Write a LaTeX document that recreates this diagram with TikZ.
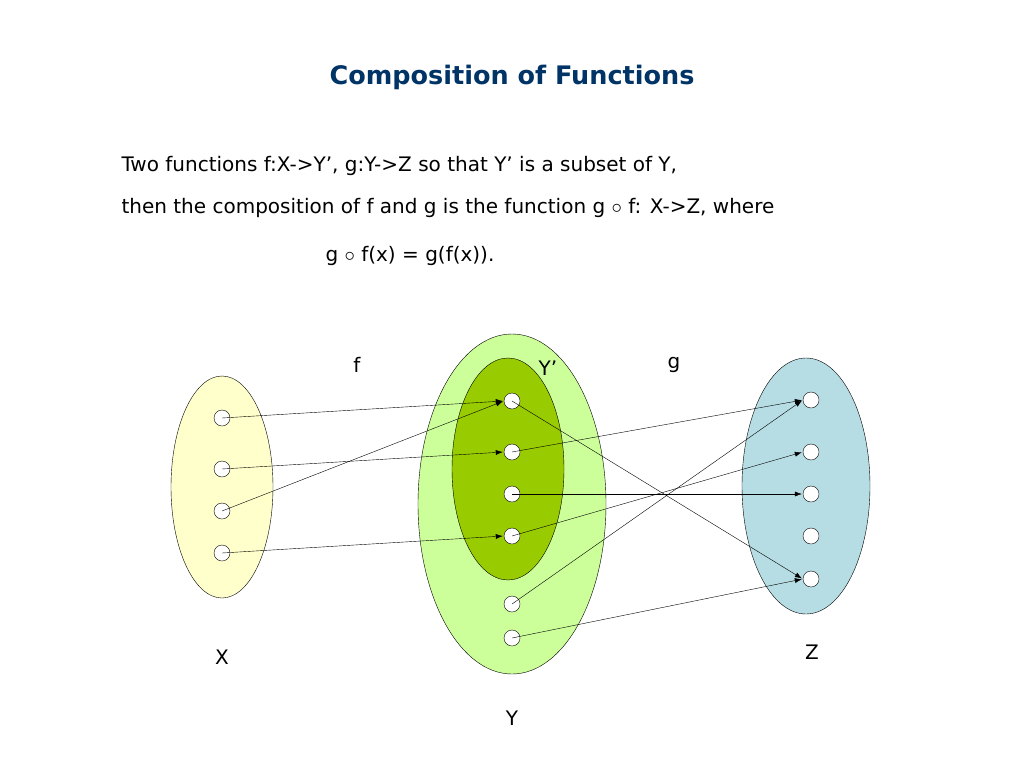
\documentclass[tikz,border=0pt]{standalone}
\usepackage{fontspec}
\setmainfont{DejaVu Sans}
\usepackage{tikz}
\usetikzlibrary{arrows.meta}
\tikzset{>={Latex[length=7pt,width=5pt]}}
\definecolor{titleblue}{RGB}{0,51,102}
\definecolor{xfill}{RGB}{255,255,204}
\definecolor{yfill}{RGB}{204,255,153}
\definecolor{ypfill}{RGB}{153,204,0}
\definecolor{zfill}{RGB}{183,221,228}
\tikzstyle{elt}=[draw,circle,fill=white,inner sep=0,minimum size=16]
\tikzstyle{map}=[->,thin,shorten >=1pt]
\begin{document}
\begin{tikzpicture}[x=1pt,y=-1pt,font=\fontsize{20}{24}\selectfont]
  \useasboundingbox (0,0) rectangle (1024,768);
  \node[titleblue,font=\fontsize{25.5}{30}\selectfont\bfseries] (title) at (512,77) {Composition of Functions};
  \node[anchor=west] (l1) at (118,166) {Two functions f:X->Y’, g:Y->Z so that Y’ is a subset of Y,};
  \node[anchor=west] (l2) at (118,208) {then the composition of f and g is the function g $\circ$ f: X->Z, where};
  \node[anchor=west] (l3) at (322,256) {g $\circ$ f(x) = g(f(x)).};
  % sets
  \draw[fill=xfill] (222,487) ellipse [x radius=51,y radius=111];
  \draw[fill=yfill] (512,504) ellipse [x radius=94,y radius=170];
  \draw[fill=ypfill] (508,469) ellipse [x radius=56,y radius=111];
  \draw[fill=zfill] (806,486) ellipse [x radius=64,y radius=128];
  % elements
  \foreach \i/\y in {1/418,2/469,3/511,4/553} \node[elt] (x\i) at (222,\y) {};
  \foreach \i/\y in {1/401,2/452,3/494,4/536,5/604,6/638} \node[elt] (y\i) at (512,\y) {};
  \foreach \i/\y in {1/400,2/452,3/494,4/536,5/579} \node[elt] (z\i) at (811,\y) {};
  % f
  \foreach \a/\b in {1/1,2/2,3/1,4/4} \draw[map] (x\a.center) -- (y\b.west);
  % g
  \foreach \a/\b in {1/5,2/1,3/3,4/2,5/1,6/5} \draw[map] (y\a.center) -- (z\b.west);
  % labels
  \node (f) at (357,365) {f};
  \node (yp) at (548,368) {Y’};
  \node (g) at (674,365) {g};
  \node (X) at (222,657) {X};
  \node (Z) at (812,652) {Z};
  \node (Y) at (512,718) {Y};
\end{tikzpicture}
\end{document}
